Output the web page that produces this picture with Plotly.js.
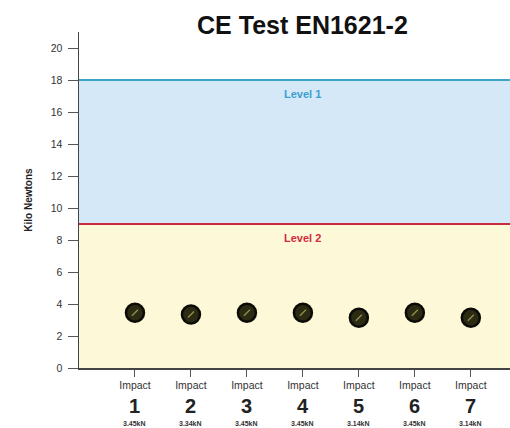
<!DOCTYPE html>
<html><head><meta charset="utf-8">
<script src="https://cdn.plot.ly/plotly-3.0.1.min.js"></script>
<style>html,body{margin:0;padding:0;background:#fff;}#chart{width:510px;height:428px;}</style>
</head><body><div id="chart"></div>
<script>
// Data
const impacts = [1, 2, 3, 4, 5, 6, 7];
const impactLabels = ["Impact", "Impact", "Impact", "Impact", "Impact", "Impact", "Impact"];
const impactNumbers = ["1", "2", "3", "4", "5", "6", "7"];
const forceKN = [3.45, 3.34, 3.45, 3.45, 3.14, 3.45, 3.14];
const forceLabels = ["3.45kN", "3.34kN", "3.45kN", "3.45kN", "3.14kN", "3.45kN", "3.14kN"];
const levelValues = [18, 9];
const levelNames = ["Level 1", "Level 2"];
const yTicks = [0, 2, 4, 6, 8, 10, 12, 14, 16, 18, 20];

const FONT = "Liberation Sans, Arial, Helvetica, sans-serif";
const bandColors = ["#d4e8f7", "#fdf8d8"];
const lineColors = ["#3ea5c6", "#c92b3e"];
const textColors = ["#3b9fd2", "#d22a40"];

const shapes = [];
shapes.push({type:"rect", xref:"paper", yref:"y", x0:0, x1:1, y0:levelValues[1], y1:levelValues[0], fillcolor:bandColors[0], line:{width:0}, layer:"below"});
shapes.push({type:"rect", xref:"paper", yref:"y", x0:0, x1:1, y0:0, y1:levelValues[1], fillcolor:bandColors[1], line:{width:0}, layer:"below"});
levelValues.forEach((v, i) => {
  shapes.push({type:"line", xref:"paper", yref:"y", x0:0, x1:1, y0:v, y1:v, line:{color:lineColors[i], width:2}, layer:"below"});
});

const annotations = [];
levelValues.forEach((v, i) => {
  annotations.push({x:4, y:v, xref:"x", yref:"y", text:"<b>"+levelNames[i]+"</b>", showarrow:false, yshift:-14, font:{family:FONT, size:11, color:textColors[i]}});
});
impacts.forEach((x, i) => {
  annotations.push({x:x, y:0, xref:"x", yref:"paper", yanchor:"middle", yshift:-38, text:"<b>"+impactNumbers[i]+"</b>", showarrow:false, font:{family:FONT, size:20, color:"#222"}});
  annotations.push({x:x, y:0, xref:"x", yref:"paper", yanchor:"middle", yshift:-55, text:"<b>"+forceLabels[i]+"</b>", showarrow:false, font:{family:FONT, size:7, color:"#333"}});
});

const traces = [
  {x:impacts, y:forceKN, type:"scatter", mode:"markers", hoverinfo:"skip",
   marker:{size:18, color:"#2b2a12", line:{color:"#0b0b06", width:2.5}}},
  {x:impacts, y:forceKN, type:"scatter", mode:"markers", hoverinfo:"skip",
   marker:{size:6, symbol:"line-ne", color:"#8f8a48", line:{color:"#8f8a48", width:1.5}}}
];

const layout = {
  width:510, height:428,
  margin:{l:79, r:0, t:32, b:60},
  paper_bgcolor:"#ffffff", plot_bgcolor:"#ffffff",
  showlegend:false,
  font:{family:FONT, color:"#333"},
  title:{text:"<b>CE Test EN1621-2</b>", x:0.593, xref:"container", xanchor:"center", y:0.94, yref:"container", yanchor:"middle",
         font:{family:FONT, size:25, color:"#111"}},
  xaxis:{range:[0, 7.7], tickvals:impacts, ticktext:impactLabels, ticks:"outside", ticklen:7, tickcolor:"#555",
         showgrid:false, zeroline:false, showline:true, linecolor:"#444", linewidth:1.5,
         tickfont:{family:FONT, size:10.5, color:"#333"}},
  yaxis:{range:[0, 21], tickvals:yTicks, ticks:"outside", ticklen:10, tickcolor:"#555", ticklabelstandoff:3,
         showgrid:false, zeroline:false, showline:true, linecolor:"#444", linewidth:1.5,
         tickfont:{family:FONT, size:10.5, color:"#333"},
         title:{text:"<b>Kilo Newtons</b>", standoff:16, font:{family:FONT, size:10, color:"#222"}}},
  shapes:shapes, annotations:annotations
};

Plotly.newPlot("chart", traces, layout, {displayModeBar:false, staticPlot:true});
</script></body></html>
